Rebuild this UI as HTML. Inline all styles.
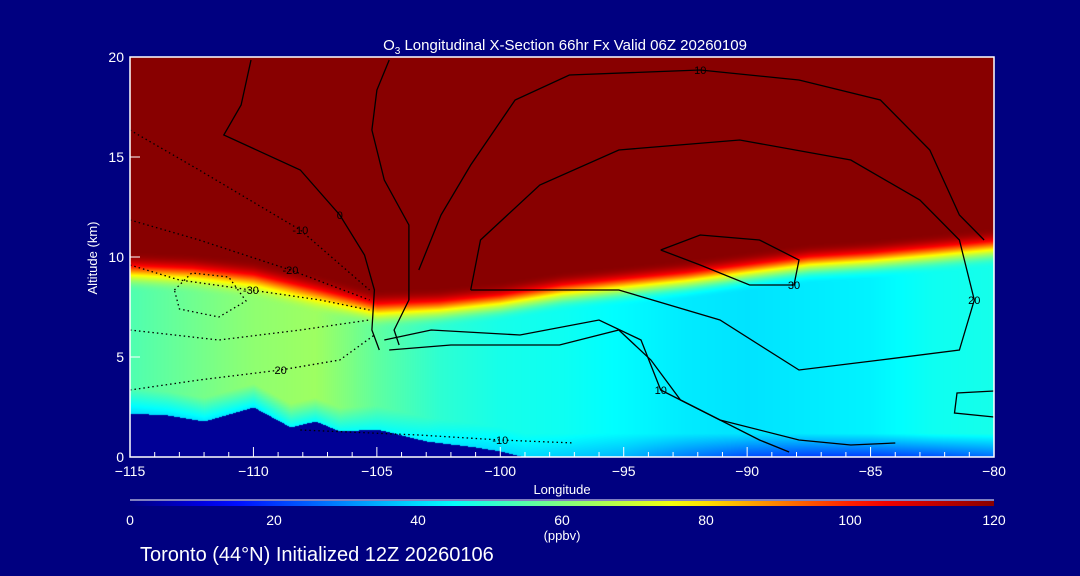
<!DOCTYPE html>
<html><head><meta charset="utf-8"><style>
body{margin:0;background:#000080;width:1080px;height:576px;overflow:hidden;font-family:"Liberation Sans",sans-serif;color:#fff}
#wrap{position:relative;width:1080px;height:576px}
canvas{position:absolute;left:130px;top:57px}
svg{position:absolute;left:0;top:0}
</style></head><body>
<div id="wrap">
<canvas id="cv" width="864" height="400"></canvas>
<svg id="sv" width="1080" height="576"></svg>
</div>
<script>
// Data arrays
const lons=[-115,-112.5,-110,-107.5,-105,-102.5,-100,-97.5,-95,-92.5,-90,-87.5,-85,-82.5,-80];
const tropHeight=[10.4,10.3,10.0,9.3,8.5,8.6,8.9,9.4,9.7,10.0,10.4,10.8,11.0,11.3,11.6];
const midOzone=[54,58,62,64,56,50,47,46,44,42,41,42,43,46,47];
const surfaceOzone=[40,41,42,44,45,42,40,38,35,28,22,20,20,22,26];
const terrainLons=[-115,-113.5,-112,-110,-108.5,-107.5,-106.5,-105,-103,-101,-100,-99];
const terrainAlt=[2.2,2.1,1.8,2.5,1.5,1.8,1.3,1.4,0.8,0.5,0.3,0];
const cbTicks=[0,20,40,60,80,100,120];
const xTicks=[-115,-110,-105,-100,-95,-90,-85,-80];
const yTicks=[0,5,10,15,20];
const contours=[
 {s:0,lab:"0",pts:[[-110.1,19.85],[-110.5,17.6],[-111.2,16.1],[-108.1,14.35],[-106.5,12.1],[-105.5,10.1],[-105.1,8.35],[-105.2,6.35],[-104.9,5.35]]},
 {s:0,lab:"",pts:[[-104.5,19.85],[-105,18.35],[-105.2,16.35],[-104.7,13.85],[-103.7,11.6],[-103.7,7.85],[-104.3,6.35],[-104.1,5.6]]},
 {s:0,lab:"10",pts:[[-103.3,9.35],[-102.4,12.1],[-101.2,14.6],[-99.4,17.85],[-97.2,19.1],[-91.9,19.35],[-87.9,18.85],[-84.6,17.85],[-82.6,15.35],[-81.4,12.1],[-80.4,10.85]]},
 {s:0,lab:"20",pts:[[-101.2,8.35],[-100.8,10.85],[-98.4,13.6],[-95.2,15.35],[-90.3,15.85],[-85.8,14.85],[-83,12.85],[-81.4,10.85],[-80.8,7.85],[-81.4,5.35],[-84.6,4.85],[-87.9,4.35],[-91.1,6.85],[-95.2,8.35],[-98.4,8.35],[-101.2,8.35]]},
 {s:0,lab:"30",pts:[[-93.5,10.35],[-91.9,11.1],[-89.5,10.85],[-87.9,9.85],[-88.1,8.6],[-89.9,8.6],[-91.9,9.6],[-93.5,10.35]]},
 {s:0,lab:"10",pts:[[-104.7,5.85],[-102.8,6.35],[-99.2,6.1],[-96,6.85],[-94.3,5.85],[-93.5,3.35],[-91.1,1.85],[-87.9,0.85],[-85.8,0.6],[-84,0.7]]},
 {s:0,lab:"",pts:[[-104.5,5.35],[-102,5.6],[-97.6,5.6],[-95.2,6.35],[-93.9,4.85],[-92.7,2.85],[-89.5,0.85],[-88.3,0.25]]},
 {s:0,lab:"",pts:[[-80,3.3],[-81.5,3.2],[-81.6,2.2],[-80,2.0]]},
 {s:1,lab:"-10",pts:[[-115,16.35],[-112.2,14.35],[-108.1,11.35],[-105.3,8.35]]},
 {s:1,lab:"-20",pts:[[-115,11.85],[-112.2,10.85],[-108.5,9.35],[-105.3,7.85]]},
 {s:1,lab:"-30",pts:[[-115,9.6],[-113,8.85],[-110.1,8.35],[-107.3,7.85],[-105.3,7.35]]},
 {s:1,lab:"",pts:[[-115,6.35],[-111.4,5.85],[-108.1,6.35],[-105.3,6.85]]},
 {s:1,lab:"20",pts:[[-115,3.35],[-112.2,3.85],[-108.9,4.35],[-106.5,4.85],[-105.1,6.1]]},
 {s:1,lab:"-10",pts:[[-108.1,1.35],[-103.3,1.1],[-100,0.85],[-97,0.7]]},
 {s:1,lab:"",pts:[[-113.2,8.35],[-112.5,9.2],[-111,9.0],[-110.3,7.8],[-111.4,7.0],[-113,7.4],[-113.2,8.35]]}
];
const W=864,H=400,X0=130,Y0=57;
const xs=l=>X0+(l+115)/35*W, ys=a=>Y0+H-a/20*H;
function interp(xa,ya,x){if(x<=xa[0])return ya[0];for(let i=1;i<xa.length;i++){if(x<=xa[i]){const t=(x-xa[i-1])/(xa[i]-xa[i-1]);return ya[i-1]+t*(ya[i]-ya[i-1]);}}return ya[ya.length-1];}
const stops=[[0,[0,0,128]],[0.11,[0,0,255]],[0.37,[0,255,255]],[0.5,[128,255,128]],[0.64,[255,255,0]],[0.86,[255,0,0]],[1,[136,0,0]]];
function cmap(v){let t=Math.max(0,Math.min(1,v/120));for(let i=1;i<stops.length;i++){if(t<=stops[i][0]){const a=stops[i-1],b=stops[i],u=(t-a[0])/(b[0]-a[0]);return a[1].map((c,k)=>Math.round(c+u*(b[1][k]-c)));}}return stops[stops.length-1][1];}
const cv=document.getElementById('cv'),ctx=cv.getContext('2d'),img=ctx.createImageData(W,H);
for(let py=0;py<H;py++){const alt=(H-py)/H*20;for(let px=0;px<W;px++){const lon=-115+px/W*35;
 const terr=interp(terrainLons,terrainAlt,lon);let c;
 if(alt<terr){c=[0,0,150];}else{
  const tr=interp(lons,tropHeight,lon),mid=interp(lons,midOzone,lon),sf=interp(lons,surfaceOzone,lon);
  const z=alt-terr;let v=sf+(mid-sf)*Math.min(1,z/1.2);
  let t=(alt-(tr-2.2))/2.2;t=Math.max(0,Math.min(1,t));t=t*t*t*(t*(t*6-15)+10);v=v+(120-v)*t;c=cmap(v);}
 const i=(py*W+px)*4;img.data[i]=c[0];img.data[i+1]=c[1];img.data[i+2]=c[2];img.data[i+3]=255;}}
ctx.putImageData(img,0,0);
const NS='http://www.w3.org/2000/svg',sv=document.getElementById('sv');
function mk(tag,at,txt){const e=document.createElementNS(NS,tag);for(const k in at)e.setAttribute(k,at[k]);if(txt!==undefined)e.textContent=txt;sv.appendChild(e);return e;}
contours.forEach((c,ci)=>{
 const p=mk('polyline',{points:c.pts.map(q=>xs(q[0]).toFixed(1)+','+ys(q[1]).toFixed(1)).join(' '),fill:'none',stroke:'#000','stroke-width':1.3,'stroke-dasharray':c.s?'1.5,3':'none'});
 
 
 if(c.lab){const q=c.pts[Math.floor(c.pts.length/2)];const t=mk('text',{x:xs(q[0]),y:ys(q[1])+4,'font-size':11,fill:'#000','text-anchor':'middle'},c.lab);
 
 }
});
const fr=mk('rect',{x:X0,y:Y0,width:W,height:H,fill:'none',stroke:'#fff','stroke-width':1.5});


for(let l=-115;l<=-80;l++){const major=l%5===0;const tk=mk('line',{x1:xs(l),x2:xs(l),y1:Y0+H,y2:Y0+H-(major?10:5),stroke:'#fff'});
 
 }
xTicks.forEach(l=>{const t=mk('text',{x:xs(l),y:476,'font-size':14,fill:'#fff','text-anchor':'middle'},(l<0?'\u2212':'')+Math.abs(l));
 
 });
yTicks.forEach(a=>{const t=mk('text',{x:124,y:ys(a)+5,'font-size':14,fill:'#fff','text-anchor':'end'},a);
 
 
 const tk=mk('line',{x1:X0,x2:X0+10,y1:ys(a),y2:ys(a),stroke:'#fff'});
 
 });
const defs=mk('defs',{});const g=document.createElementNS(NS,'linearGradient');g.setAttribute('id','cb');defs.appendChild(g);
for(let i=0;i<=24;i++){const c=cmap(i*5);const s=document.createElementNS(NS,'stop');s.setAttribute('offset',(i/24*100)+'%');s.setAttribute('stop-color','rgb('+c.join(',')+')');g.appendChild(s);}
const cl=mk('line',{x1:X0,x2:X0+W,y1:500,y2:500,stroke:'#fff'});


const cb=mk('rect',{x:X0,y:501,width:W,height:5,fill:'url(#cb)'});


cbTicks.forEach(v=>{const t=mk('text',{x:X0+v/120*W,y:525,'font-size':14,fill:'#fff','text-anchor':'middle'},v);
 
 });
</script>
<svg width="1080" height="576" style="position:absolute;left:0;top:0;pointer-events:none">
<text x="565" y="50" font-size="15" fill="#fff" text-anchor="middle">O<tspan font-size="10" dy="4">3</tspan><tspan dy="-4"> Longitudinal X-Section 66hr  Fx Valid 06Z 20260109</tspan></text>
<text x="562" y="494" font-size="13" fill="#fff" text-anchor="middle">Longitude</text>
<text x="97" y="258" font-size="13" fill="#fff" text-anchor="middle" transform="rotate(-90 97 258)">Altitude (km)</text>
<text x="562" y="540" font-size="13" fill="#fff" text-anchor="middle">(ppbv)</text>
<text x="140" y="561" font-size="20" fill="#fff">Toronto (44°N) Initialized 12Z 20260106</text>
</svg>
</body></html>
